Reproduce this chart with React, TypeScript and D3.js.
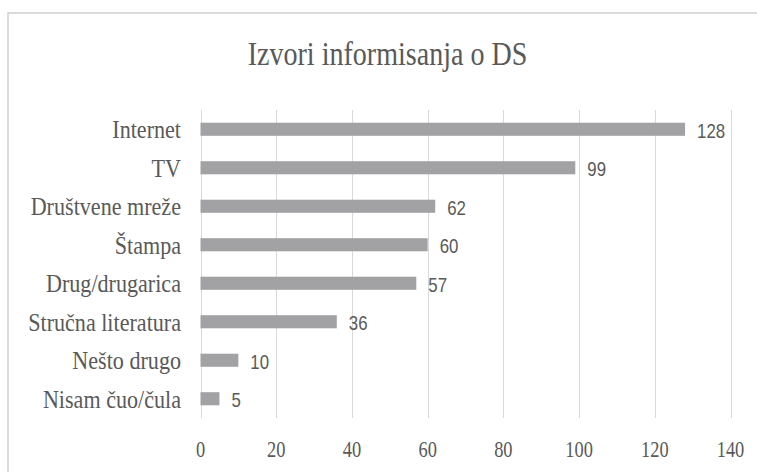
import React from "react";
import * as d3 from "d3";

const categories = [
  "Internet",
  "TV",
  "Društvene mreže",
  "Štampa",
  "Drug/drugarica",
  "Stručna literatura",
  "Nešto drugo",
  "Nisam čuo/čula",
];
const values = [128, 99, 62, 60, 57, 36, 10, 5];
const xTicks = [0, 20, 40, 60, 80, 100, 120, 140];
const title = "Izvori informisanja o DS";

const W = 757;
const H = 472;
const SX = 0.85;

let ctx: CanvasRenderingContext2D | null = null;
function measure(text: string, font: string): number {
  if (!ctx) ctx = document.createElement("canvas").getContext("2d");
  if (!ctx) return text.length * 10;
  ctx.font = font;
  return ctx.measureText(text).width;
}

function SText(props: {
  x: number;
  y: number;
  text: string;
  size: number;
  family: string;
  scale: number;
  anchor: "start" | "middle" | "end";
  fill: string;
}) {
  const { x, y, text, size, family, scale, anchor, fill } = props;
  const w = measure(text, `${size}px "${family}"`) * scale;
  const x0 = anchor === "start" ? x : anchor === "middle" ? x - w / 2 : x - w;
  return (
    <text
      x={x0}
      y={y}
      textLength={w}
      lengthAdjust="spacingAndGlyphs"
      fontSize={size}
      fill={fill}
      style={{ fontFamily: family }}
    >
      {text}
    </text>
  );
}

export default function App() {
  const x = d3.scaleLinear().domain([0, 140]).range([200.5, 730.5]);
  const y = d3
    .scaleBand<string>()
    .domain(categories)
    .range([110, 418])
    .paddingInner(0.66)
    .paddingOuter(0.33);

  const serif = "Liberation Serif";
  const sans = "Liberation Sans";
  const textColor = "#595959";

  return (
    <svg
      width={W}
      height={H}
      style={{ position: "absolute", left: 0, top: 0, background: "#fff" }}
    >
      <rect x={0} y={0} width={W} height={H} fill="#fff" />
      <rect
        x={8}
        y={13}
        width={W + 20}
        height={H + 20}
        fill="#fff"
        stroke="#d0d0d0"
        strokeWidth={1.5}
      />
      <SText
        x={(243 + 532) / 2}
        y={65}
        text={title}
        size={33}
        family={serif}
        scale={SX}
        anchor="middle"
        fill={textColor}
      />
      {xTicks.map((t) => (
        <line
          key={"g" + t}
          x1={Math.round(x(t)) + 0.5}
          x2={Math.round(x(t)) + 0.5}
          y1={110}
          y2={418}
          stroke="#d9d9d9"
          strokeWidth={1}
        />
      ))}
      {categories.map((c, i) => (
        <rect
          key={"b" + c}
          x={x(0)}
          y={y(c)!}
          width={x(values[i]) - x(0)}
          height={y.bandwidth()}
          fill="#a2a2a5"
        />
      ))}
      {categories.map((c) => (
        <SText
          key={"c" + c}
          x={181}
          y={y(c)! + y.bandwidth() / 2 + 9}
          text={c}
          size={26}
          family={serif}
          scale={SX}
          anchor="end"
          fill={textColor}
        />
      ))}
      {categories.map((c, i) => (
        <SText
          key={"v" + c}
          x={x(values[i]) + 12}
          y={y(c)! + y.bandwidth() / 2 + 8.5}
          text={String(values[i])}
          size={21}
          family={sans}
          scale={0.8}
          anchor="start"
          fill={textColor}
        />
      ))}
      {xTicks.map((t) => (
        <SText
          key={"t" + t}
          x={x(t)}
          y={457}
          text={String(t)}
          size={23}
          family={serif}
          scale={0.8}
          anchor="middle"
          fill={textColor}
        />
      ))}
    </svg>
  );
}
